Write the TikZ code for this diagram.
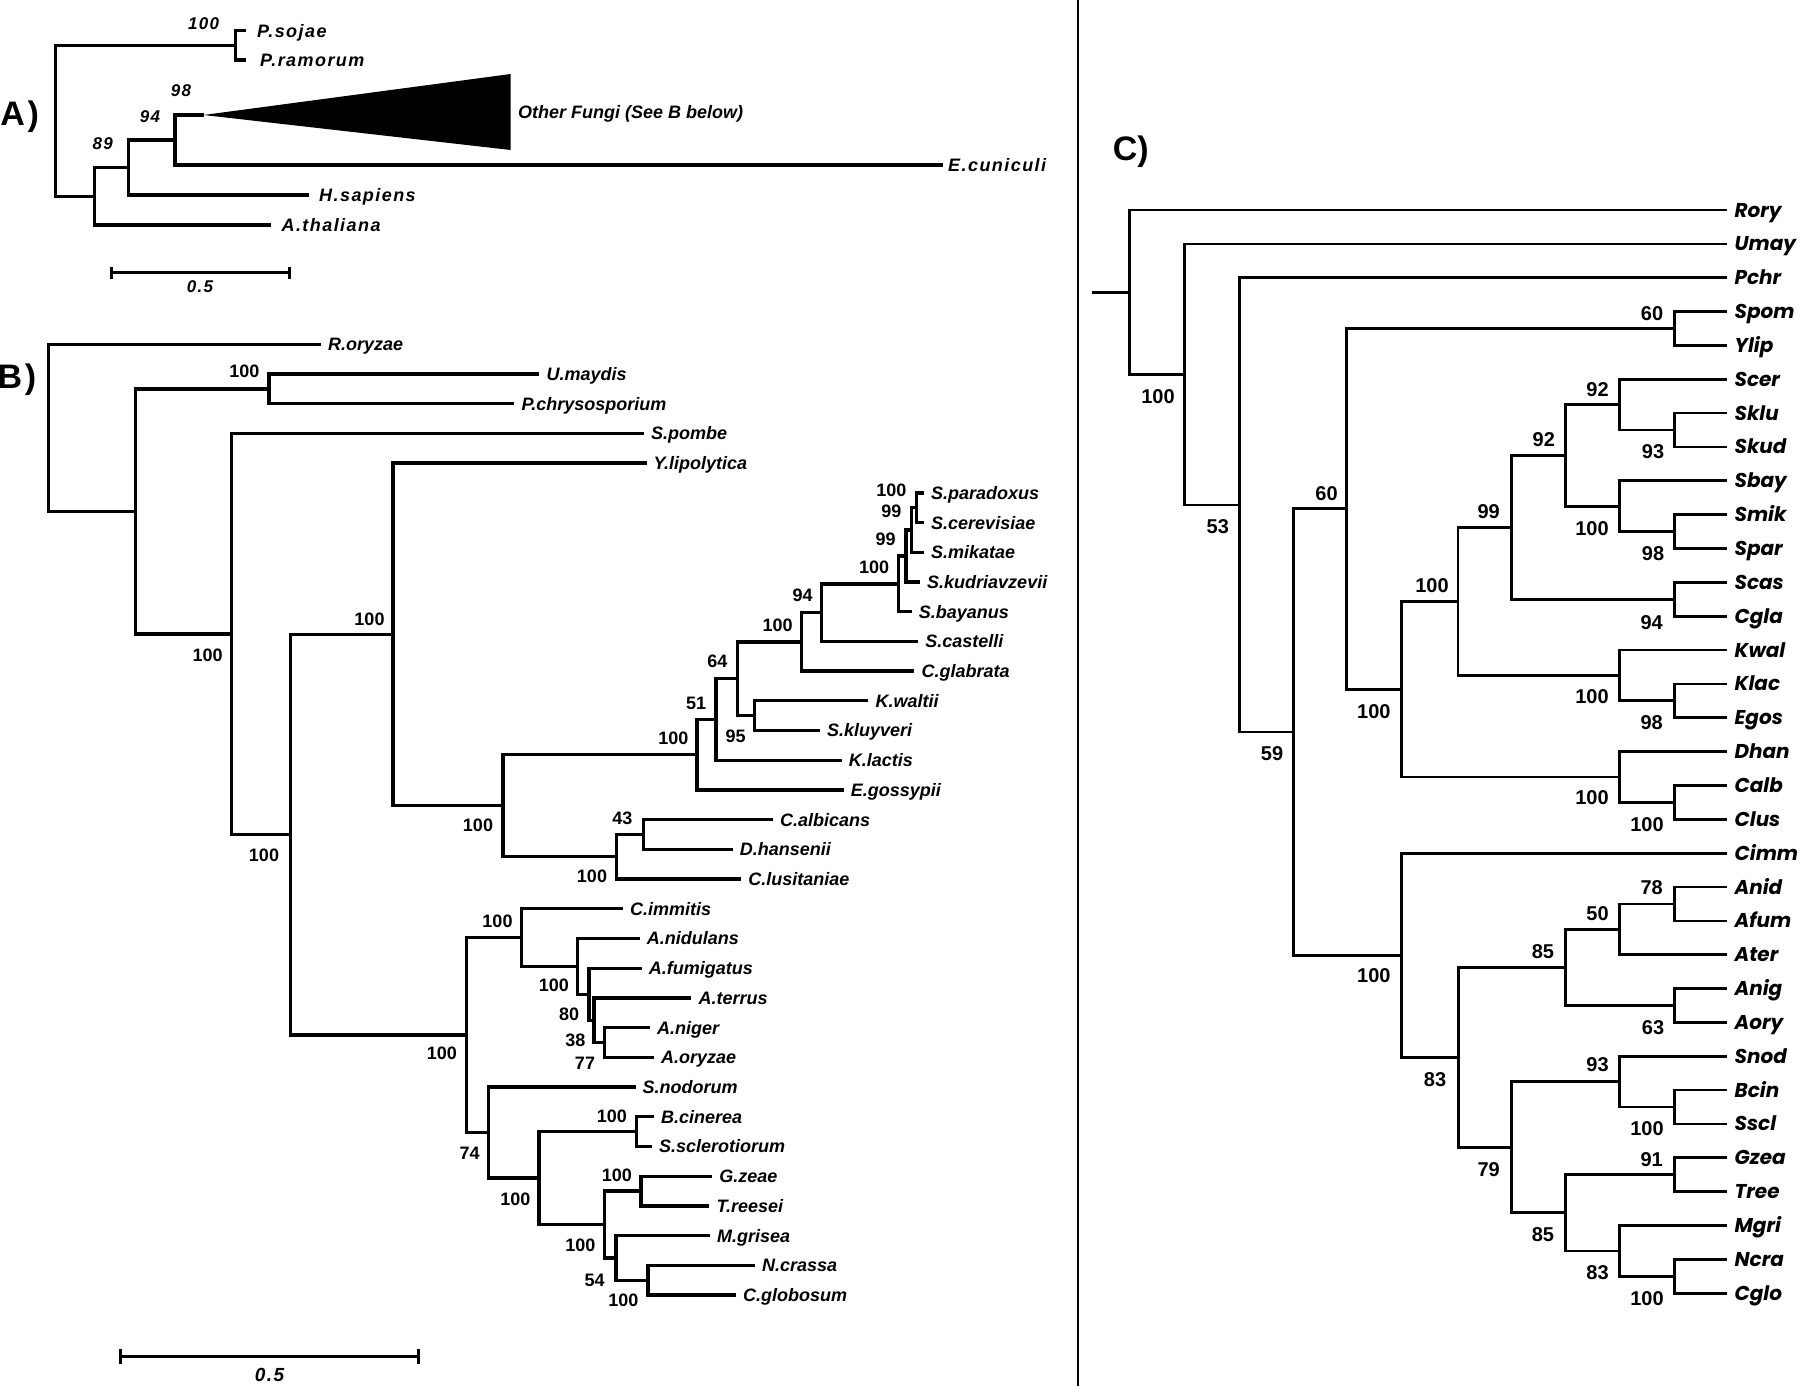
\documentclass[tikz,border=0pt]{standalone}
\usepackage{fontspec}
\setmainfont{Liberation Sans}
\newfontfamily\afont[LetterSpace=8]{Liberation Sans}
\newfontfamily\cfont{Poppins}
\usetikzlibrary{calc}
\newcommand\mkclade[4]{%
  \path let \p1=($(#3)!.5!(#4)$) in coordinate (#1) at (#2pt,\y1);
  \draw[br] (#3) -- (#3 -| #1) -- (#4 -| #1) -- (#4);%
}
\tikzset{
  br/.style={line width=3.3pt},
  nmA/.style={anchor=base west, inner sep=0pt, xshift=10pt, yshift=-6.4pt, font=\afont\fontsize{18}{18}\selectfont\bfseries\itshape},
  bsA/.style={inner sep=0pt, font=\afont\fontsize{17}{17}\selectfont\bfseries\itshape},
  nmB/.style={anchor=base west, inner sep=0pt, xshift=7pt, yshift=-6.4pt, font=\fontsize{18}{18}\selectfont\bfseries\itshape},
  bsB/.style={inner sep=0pt, font=\fontsize{18}{18}\selectfont\bfseries},
  nmC/.style={anchor=base west, inner sep=0pt, xshift=7.8pt, yshift=-7pt, font=\cfont\fontsize{20}{20}\selectfont\bfseries\itshape},
  bsC/.style={inner sep=0pt, font=\fontsize{20}{20}\selectfont\bfseries},
  panel/.style={inner sep=0pt, font=\afont\fontsize{34}{34}\selectfont\bfseries},
  sbar/.style={line width=3.3pt},
}
\begin{document}
\begin{tikzpicture}[x=1pt,y=-1pt]
\useasboundingbox (0,0) rectangle (1800,1386);
\fill[white] (0,0) rectangle (1800,1386);

% divider
\coordinate (divT) at (1078,0);
\coordinate (divB) at (1078,1386);
\draw[line width=1.3pt] (divT) -- (divB);

% ---------------- Panel A ----------------
\node[panel] (labA) at (19.6,116.7) {A)};
\begin{scope}[br/.style={line width=3.2pt}]
\coordinate (aSoj) at (246,30.7);
\coordinate (aRam) at (246,60);
\coordinate (aFun) at (203.6,115);
\coordinate (aEcu) at (943,165);
\coordinate (aHsa) at (309,195);
\coordinate (aAth) at (271.4,225);
\mkclade{aP}{235.7}{aSoj}{aRam}
\mkclade{a98}{175}{aFun}{aEcu}
\mkclade{a94}{128.6}{a98}{aHsa}
\mkclade{a89}{94.6}{a94}{aAth}
\mkclade{aroot}{55.4}{aP}{a89}
\coordinate (triT) at (510.7,74);
\coordinate (triB) at (510.7,150);
\fill (aFun) -- (triT) -- (triB) -- cycle;
\end{scope}
\node[nmA, xshift=1pt] (laSoj) at (aSoj) {P.sojae};
\node[nmA, xshift=4pt] (laRam) at (aRam) {P.ramorum};
\node[nmA, xshift=-5pt] (laEcu) at (aEcu) {E.cuniculi};
\node[nmA] (laHsa) at (aHsa) {H.sapiens};
\node[nmA] (laAth) at (aAth) {A.thaliana};
\coordinate (funLab) at (518,111.7);
\node[anchor=base west, inner sep=0pt, yshift=-6.4pt, font=\fontsize{18}{18}\selectfont\bfseries\itshape] (laFun) at (funLab) {Other Fungi (See B below)};
\node[bsA] (baP) at (203.6,23.3) {100};
\node[bsA] (ba98) at (181,91) {98};
\node[bsA] (ba94) at (150,116.7) {94};
\node[bsA] (ba89) at (102.7,144) {89};
% scale bar A
\coordinate (sA1) at (111.4,272.7);
\coordinate (sA2) at (289.3,272.7);
\draw[sbar] (sA1) -- (sA2);
\draw[sbar] ([yshift=6pt]sA1) -- ([yshift=-6pt]sA1);
\draw[sbar] ([yshift=6pt]sA2) -- ([yshift=-6pt]sA2);
\node[bsA] (sAl) at (200,286.7) {0.5};

% ---------------- Panel B ----------------
\node[panel] (labB) at (17,380) {B)};
\coordinate (tRor) at (321,344.3);
\coordinate (tUma) at (539.4,374.0);
\coordinate (tPch) at (514.4,403.7);
\coordinate (tSpo) at (644,433.4);
\coordinate (tYli) at (646.5,463.1);
\coordinate (tSpa) at (924,492.9);
\coordinate (tSce) at (924,522.6);
\coordinate (tSmi) at (924,552.3);
\coordinate (tSku) at (920,582.0);
\coordinate (tSba) at (911.7,611.7);
\coordinate (tSca) at (918.2,641.4);
\coordinate (tCgl) at (914.4,671.1);
\coordinate (tKwa) at (868.4,700.8);
\coordinate (tSkl) at (819.8,730.5);
\coordinate (tKla) at (841.6,760.2);
\coordinate (tEgo) at (843.6,790.0);
\coordinate (tCal) at (772.8,819.7);
\coordinate (tDha) at (732.6,849.4);
\coordinate (tClu) at (741.2,879.1);
\coordinate (tCim) at (623,908.8);
\coordinate (tAni) at (639.6,938.5);
\coordinate (tAfu) at (641.7,968.2);
\coordinate (tAte) at (691.4,997.9);
\coordinate (tAng) at (650,1027.6);
\coordinate (tAor) at (654,1057.3);
\coordinate (tSno) at (635.5,1087.1);
\coordinate (tBci) at (654,1116.8);
\coordinate (tSsc) at (652,1146.5);
\coordinate (tGze) at (712.2,1176.2);
\coordinate (tTre) at (709.3,1205.9);
\coordinate (tMgr) at (710,1235.6);
\coordinate (tNcr) at (755,1265.3);
\coordinate (tCgb) at (736,1295.0);

\mkclade{bq}{916.3}{tSpa}{tSce}
\mkclade{bp}{911.3}{bq}{tSmi}
\mkclade{bo}{906}{bp}{tSku}
\mkclade{bn}{898.3}{bo}{tSba}
\mkclade{bm}{821.7}{bn}{tSca}
\mkclade{bl}{801.5}{bm}{tCgl}
\mkclade{bkw}{754.4}{tKwa}{tSkl}
\mkclade{bk}{737.2}{bl}{bkw}
\mkclade{bj}{716.1}{bk}{tKla}
\mkclade{bi}{697}{bj}{tEgo}
\mkclade{bh}{643.4}{tCal}{tDha}
\mkclade{bcand}{616.6}{bh}{tClu}
\mkclade{bg}{503}{bi}{bcand}
\mkclade{bf}{393.1}{tYli}{bg}
\mkclade{bsvii}{604.4}{tAng}{tAor}
\mkclade{bsvi}{594}{tAte}{bsvii}
\mkclade{bsv}{589}{tAfu}{bsvi}
\mkclade{bsiv}{577.5}{tAni}{bsv}
\mkclade{basp}{521.5}{tCim}{bsiv}
\mkclade{bbc}{636.7}{tBci}{tSsc}
\mkclade{bgz}{640.9}{tGze}{tTre}
\mkclade{bnc}{647.9}{tNcr}{tCgb}
\mkclade{bmg}{616}{tMgr}{bnc}
\mkclade{bsordo}{604.4}{bgz}{bmg}
\mkclade{bt}{538.9}{bbc}{bsordo}
\mkclade{bsord}{488.3}{tSno}{bt}
\mkclade{bpez}{466.4}{basp}{bsord}
\mkclade{bthree}{290.2}{bf}{bpez}
\mkclade{btwo}{231.2}{tSpo}{bthree}
\mkclade{bup}{269}{tUma}{tPch}
\mkclade{bone}{135.4}{bup}{btwo}
\mkclade{broot}{48.6}{tRor}{bone}

\node[nmB] (lRor) at (tRor) {R.oryzae};
\node[nmB] (lUma) at (tUma) {U.maydis};
\node[nmB] (lPch) at (tPch) {P.chrysosporium};
\node[nmB] (lSpo) at (tSpo) {S.pombe};
\node[nmB] (lYli) at (tYli) {Y.lipolytica};
\node[nmB] (lSpa) at (tSpa) {S.paradoxus};
\node[nmB] (lSce) at (tSce) {S.cerevisiae};
\node[nmB] (lSmi) at (tSmi) {S.mikatae};
\node[nmB] (lSku) at (tSku) {S.kudriavzevii};
\node[nmB] (lSba) at (tSba) {S.bayanus};
\node[nmB] (lSca) at (tSca) {S.castelli};
\node[nmB] (lCgl) at (tCgl) {C.glabrata};
\node[nmB] (lKwa) at (tKwa) {K.waltii};
\node[nmB] (lSkl) at (tSkl) {S.kluyveri};
\node[nmB] (lKla) at (tKla) {K.lactis};
\node[nmB] (lEgo) at (tEgo) {E.gossypii};
\node[nmB] (lCal) at (tCal) {C.albicans};
\node[nmB] (lDha) at (tDha) {D.hansenii};
\node[nmB] (lClu) at (tClu) {C.lusitaniae};
\node[nmB] (lCim) at (tCim) {C.immitis};
\node[nmB] (lAni) at (tAni) {A.nidulans};
\node[nmB] (lAfu) at (tAfu) {A.fumigatus};
\node[nmB] (lAte) at (tAte) {A.terrus};
\node[nmB] (lAng) at (tAng) {A.niger};
\node[nmB] (lAor) at (tAor) {A.oryzae};
\node[nmB] (lSno) at (tSno) {S.nodorum};
\node[nmB] (lBci) at (tBci) {B.cinerea};
\node[nmB] (lSsc) at (tSsc) {S.sclerotiorum};
\node[nmB] (lGze) at (tGze) {G.zeae};
\node[nmB] (lTre) at (tTre) {T.reesei};
\node[nmB] (lMgr) at (tMgr) {M.grisea};
\node[nmB] (lNcr) at (tNcr) {N.crassa};
\node[nmB] (lCgb) at (tCgb) {C.globosum};

\node[bsB] (bl1) at (244.4,371.7) {100};
\node[bsB] (bl2) at (207.6,655) {100};
\node[bsB] (bl3) at (369.5,619.3) {100};
\node[bsB] (bl4) at (264,855) {100};
\node[bsB] (bl5) at (478,825) {100};
\node[bsB] (bl6) at (673.3,738.3) {100};
\node[bsB] (bl7) at (696.2,703.3) {51};
\node[bsB] (bl8) at (717.3,661.7) {64};
\node[bsB] (bl9) at (735.6,736) {95};
\node[bsB] (bl10) at (777.7,625.7) {100};
\node[bsB] (bl11) at (802.6,595) {94};
\node[bsB] (bl12) at (874.2,567.3) {100};
\node[bsB] (bl13) at (885.6,539) {99};
\node[bsB] (bl14) at (891.4,511.7) {99};
\node[bsB] (bl15) at (891.4,490) {100};
\node[bsB] (bl16) at (622.4,818.3) {43};
\node[bsB] (bl17) at (592,876.7) {100};
\node[bsB] (bl18) at (441.9,1053.3) {100};
\node[bsB] (bl19) at (497.5,921.7) {100};
\node[bsB] (bl20) at (553.8,985) {100};
\node[bsB] (bl21) at (569.2,1014) {80};
\node[bsB] (bl22) at (575.4,1040) {38};
\node[bsB] (bl23) at (585,1063.3) {77};
\node[bsB] (bl24) at (469.7,1153.3) {74};
\node[bsB] (bl25) at (515.3,1199.3) {100};
\node[bsB] (bl26) at (611.9,1116) {100};
\node[bsB] (bl27) at (580.4,1245) {100};
\node[bsB] (bl28) at (616.8,1175) {100};
\node[bsB] (bl29) at (594.7,1280) {54};
\node[bsB] (bl30) at (623.4,1300) {100};

% scale bar B
\coordinate (sB1) at (120.3,1356.7);
\coordinate (sB2) at (418.5,1356.7);
\draw[sbar] (sB1) -- (sB2);
\draw[sbar] ([yshift=7.5pt]sB1) -- ([yshift=-7.5pt]sB1);
\draw[sbar] ([yshift=7.5pt]sB2) -- ([yshift=-7.5pt]sB2);
\node[bsA, font=\afont\fontsize{19}{19}\selectfont\bfseries\itshape] (sBl) at (269.6,1375) {0.5};

% ---------------- Panel C ----------------
\node[inner sep=0pt, font=\fontsize{34}{34}\selectfont\bfseries] (labC) at (1130.8,152) {C)};
\begin{scope}[br/.style={line width=2.7pt}]
\foreach \nm [count=\i from 0] in {Rory,Umay,Pchr,Spom,Ylip,Scer,Sklu,Skud,Sbay,Smik,Spar,Scas,Cgla,Kwal,Klac,Egos,Dhan,Calb,Clus,Cimm,Anid,Afum,Ater,Anig,Aory,Snod,Bcin,Sscl,Gzea,Tree,Mgri,Ncra,Cglo}{
  \coordinate (c\nm) at (1726.6,{210+33.85*\i});
  \node[nmC] (lc\nm) at (c\nm) {\nm};
}
\mkclade{csp}{1674.7}{cSpom}{cYlip}
\mkclade{csklu}{1674.7}{cSklu}{cSkud}
\mkclade{cscer}{1619.6}{cScer}{csklu}
\mkclade{csmik}{1674.7}{cSmik}{cSpar}
\mkclade{csbay}{1619.6}{cSbay}{csmik}
\mkclade{cnn}{1565.8}{cscer}{csbay}
\mkclade{cscas}{1674.7}{cScas}{cCgla}
\mkclade{cnine}{1511.6}{cnn}{cscas}
\mkclade{cklac}{1674.7}{cKlac}{cEgos}
\mkclade{ckwal}{1619.6}{cKwal}{cklac}
\mkclade{csac}{1457.9}{cnine}{ckwal}
\mkclade{ccalb}{1674.7}{cCalb}{cClus}
\mkclade{cdhan}{1619.6}{cDhan}{ccalb}
\mkclade{cyeast}{1401.4}{csac}{cdhan}
\mkclade{csixty}{1346.3}{csp}{cyeast}
\mkclade{canid}{1674.7}{cAnid}{cAfum}
\mkclade{cfifty}{1619.6}{canid}{cAter}
\mkclade{canig}{1674.7}{cAnig}{cAory}
\mkclade{casp}{1565.4}{cfifty}{canig}
\mkclade{cbcin}{1674.7}{cBcin}{cSscl}
\mkclade{csnod}{1619.6}{cSnod}{cbcin}
\mkclade{cgzea}{1674.7}{cGzea}{cTree}
\mkclade{cncra}{1674.7}{cNcra}{cCglo}
\mkclade{cmgri}{1619.6}{cMgri}{cncra}
\mkclade{csord}{1565.4}{cgzea}{cmgri}
\mkclade{cseven}{1511.6}{csnod}{csord}
\mkclade{ceight}{1458.8}{casp}{cseven}
\mkclade{cpez}{1401.4}{cCimm}{ceight}
\mkclade{cfive}{1293.5}{csixty}{cpez}
\mkclade{cthree}{1239.8}{cPchr}{cfive}
\mkclade{ctwo}{1184.7}{cUmay}{cthree}
\mkclade{croot}{1129.6}{cRory}{ctwo}
\coordinate (cstub) at (1091.5,0);
\draw[br] (croot) -- (croot -| cstub);
\end{scope}

\node[bsC] (cl1) at (1158,396.7) {100};
\node[bsC] (cl2) at (1217.8,526.7) {53};
\node[bsC] (cl3) at (1272,753.3) {59};
\node[bsC] (cl4) at (1326.6,493.3) {60};
\node[bsC] (cl5) at (1652,313.3) {60};
\node[bsC] (cl6) at (1373.9,711.7) {100};
\node[bsC] (cl7) at (1432,585.5) {100};
\node[bsC] (cl8) at (1488.7,511.7) {99};
\node[bsC] (cl9) at (1543.8,440) {92};
\node[bsC] (cl10) at (1597.5,389.3) {92};
\node[bsC] (cl11) at (1653,451.7) {93};
\node[bsC] (cl12) at (1592,528.3) {100};
\node[bsC] (cl13) at (1653,553.3) {98};
\node[bsC] (cl14) at (1651.7,622.7) {94};
\node[bsC] (cl15) at (1592,696.7) {100};
\node[bsC] (cl16) at (1651.7,722.7) {98};
\node[bsC] (cl17) at (1592,797.7) {100};
\node[bsC] (cl18) at (1647,824.3) {100};
\node[bsC] (cl19) at (1373.9,976) {100};
\node[bsC] (cl20) at (1542.9,951.7) {85};
\node[bsC] (cl21) at (1597.5,913.3) {50};
\node[bsC] (cl22) at (1651.7,887.3) {78};
\node[bsC] (cl23) at (1653,1027.3) {63};
\node[bsC] (cl24) at (1435,1079.3) {83};
\node[bsC] (cl25) at (1597.5,1065) {93};
\node[bsC] (cl26) at (1647,1129) {100};
\node[bsC] (cl27) at (1488.7,1169.3) {79};
\node[bsC] (cl28) at (1542.9,1235) {85};
\node[bsC] (cl29) at (1651.7,1159.3) {91};
\node[bsC] (cl30) at (1597.5,1272.3) {83};
\node[bsC] (cl31) at (1647,1298.3) {100};
\end{tikzpicture}
\end{document}
